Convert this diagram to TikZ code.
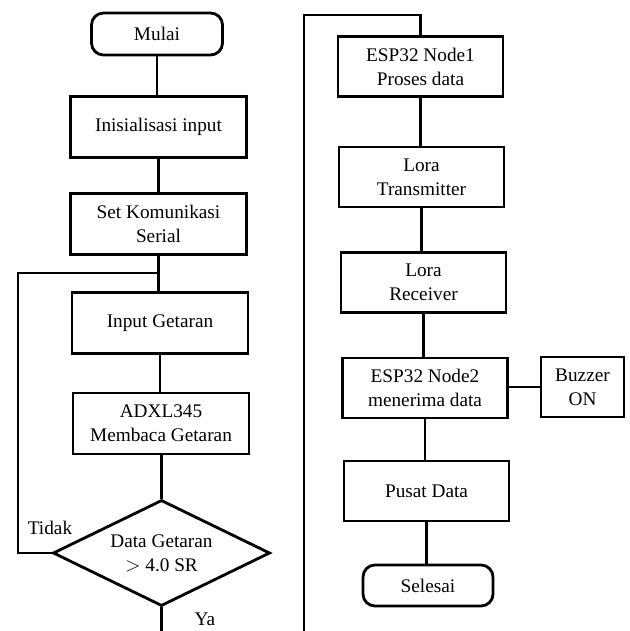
\documentclass[tikz,border=0pt]{standalone}
\usepackage{fontspec}
\setmainfont{Liberation Serif}
\usepackage{tikz}
\usetikzlibrary{arrows.meta,calc,positioning,shapes.geometric}

\tikzset{
  flowline/.style={line width=2pt},
  procbox/.style={draw,line width=2pt,minimum width=4.4cm,minimum height=1.525cm,align=center,inner sep=2pt},
  rprocbox/.style={procbox,minimum width=4.125cm,minimum height=1.5cm},
  termbox/.style={draw,line width=2pt,rounded corners=0.3cm,minimum width=3.275cm,minimum height=1.05cm,align=center},
  decbox/.style={draw,line width=2pt,diamond,aspect=2.05,minimum width=5.425cm,minimum height=2.65cm,inner sep=0pt,align=center}
}

\begin{document}
\begin{tikzpicture}[x=0.025cm,y=-0.025cm,font=\fontsize{13.7}{17}\selectfont]
  \useasboundingbox (0,0) rectangle (630,631);
  % kolom kiri
  \node[termbox] (mulai) at (157,34) {Mulai};
  \node[procbox] (init) at (158.5,127) {Inisialisasi input};
  \node[procbox] (serial) at (158.5,224) {Set Komunikasi\\Serial};
  \node[procbox] (getar) at (160,323) {Input Getaran};
  \node[procbox] (adxl) at (161,423.5) {ADXL345\\Membaca Getaran};
  \node[decbox] (cek) at (161.5,553) {Data Getaran\\$>$ 4.0 SR};
  \node (tidak) at (50,528) {Tidak};
  \node (ya) at (205,619) {Ya};
  \coordinate (loop) at (158.5,273);
  \coordinate (kiri) at (18,273);
  \coordinate (bawah) at (161.5,631);
  % kolom kanan
  \node[rprocbox] (node1) at (420.5,66.5) {ESP32 Node1\\Proses data};
  \node[rprocbox] (tx) at (421.5,177) {Lora\\Transmitter};
  \node[rprocbox] (rx) at (423.5,282.5) {Lora\\Receiver};
  \node[rprocbox] (node2) at (425,388) {ESP32 Node2\\menerima data};
  \node[procbox,minimum width=2.075cm,minimum height=1.5cm] (buzzer) at (582.5,387) {Buzzer\\ON};
  \node[rprocbox] (pusat) at (426.5,491) {Pusat Data};
  \node[termbox,minimum width=3.25cm,minimum height=1.025cm] (selesai) at (428,585.5) {Selesai};
  \coordinate (naik) at (304,631);
  \coordinate (atas) at (304,15);

  \draw[flowline] (mulai.south) -- (mulai.south |- init.north);
  \draw[flowline] (init.south) -- (init.south |- serial.north);
  \draw[flowline] (serial.south) -- (serial.south |- getar.north);
  \draw[flowline] (getar.south) -- (getar.south |- adxl.north);
  \draw[flowline] (adxl.south -| cek.north) -- (cek.north);
  \draw[flowline] (cek.west) -| (kiri) -- (loop);
  \draw[flowline] (cek.south) -- (bawah);
  \draw[flowline] (naik) -- (atas) -| (node1.north);
  \draw[flowline] (node1.south) -- (node1.south |- tx.north);
  \draw[flowline] (tx.south) -- (tx.south |- rx.north);
  \draw[flowline] (rx.south) -- (rx.south |- node2.north);
  \draw[flowline] (node2.east |- buzzer.west) -- (buzzer.west);
  \draw[flowline] (node2.south) -- (node2.south |- pusat.north);
  \draw[flowline] (pusat.south) -- (pusat.south |- selesai.north);
\end{tikzpicture}
\end{document}
